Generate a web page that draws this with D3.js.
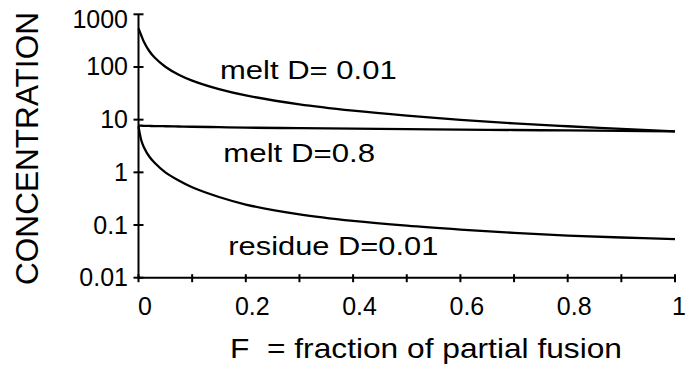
<!DOCTYPE html>
<html><head><meta charset="utf-8">
<script src="https://cdn.jsdelivr.net/npm/d3@7"></script>
<style>
body{margin:0;background:#fff}
svg{display:block}
text{font-family:"Liberation Sans",Arial,Helvetica,sans-serif;fill:#000}
</style>
</head><body><svg id="c" width="686" height="369"></svg>
<script>
// ---- data ----
const fraction    = [0, 0.005, 0.01, 0.02, 0.03, 0.05, 0.075, 0.1, 0.15, 0.2, 0.3, 0.4, 0.5, 0.6, 0.7, 0.8, 0.9, 1.0];
const meltD001    = [540, 401, 301, 201, 151, 101, 71, 55, 37.9, 28.8, 19.5, 14.8, 11.9, 9.9, 8.5, 7.5, 6.7, 6.0];
const meltD08     = [7.7, 7.68, 7.65, 7.6, 7.56, 7.5, 7.42, 7.34, 7.2, 7.05, 6.9, 6.75, 6.6, 6.48, 6.36, 6.24, 6.12, 6.0];
const residueD001 = [7.5, 4.1, 3.0, 2.0, 1.52, 1.0, 0.7, 0.52, 0.34, 0.245, 0.16, 0.12, 0.097, 0.082, 0.071, 0.063, 0.058, 0.054];
const seriesNames = ["melt D= 0.01", "melt D=0.8", "residue D=0.01"];
const yTickValues = [1000, 100, 10, 1, 0.1, 0.01];
const yTickLabels = ["1000", "100", "10", "1", "0.1", "0.01"];
const xTickValues = [0, 0.2, 0.4, 0.6, 0.8, 1];
const xTickLabels = ["0", "0.2", "0.4", "0.6", "0.8", "1"];
const xMinorTicks = [0, 0.1, 0.2, 0.3, 0.4, 0.5, 0.6, 0.7, 0.8, 0.9, 1];
const xTitle = "F  = fraction of partial fusion";
const yTitle = "CONCENTRATION";

const svg = d3.select("#c");
const x = d3.scaleLinear().domain([0, 1]).range([138.5, 675]);
const y = d3.scaleLog().domain([0.01, 1000]).range([277.7, 14.3]);

const axes = svg.append("g").attr("stroke", "#000").attr("stroke-width", 2);
// axis lines
axes.append("line").attr("x1", x(0)).attr("x2", x(0)).attr("y1", y(1000)).attr("y2", y(0.01) + 1);
axes.append("line").attr("x1", x(0) - 1).attr("x2", x(1)).attr("y1", y(0.01)).attr("y2", y(0.01));
// y ticks (crossing the axis)
axes.selectAll(".yt").data(yTickValues).join("line").attr("class", "yt")
  .attr("x1", x(0) - 5).attr("x2", x(0) + 5).attr("y1", d => y(d)).attr("y2", d => y(d));
// x ticks (crossing the axis)
axes.selectAll(".xt").data(xMinorTicks).join("line").attr("class", "xt")
  .attr("x1", d => x(d)).attr("x2", d => x(d)).attr("y1", y(0.01) - 3.5).attr("y2", y(0.01) + 4.5);

// y tick labels
svg.append("g").selectAll("text").data(yTickValues).join("text")
  .attr("x", x(0) - 10.5).attr("text-anchor", "end").attr("font-size", 25)
  .attr("y", (d, i) => i === 0 ? y(d) + 13.5 : y(d) + 8.5)
  .text((d, i) => yTickLabels[i]);

// x tick labels
svg.append("g").selectAll("text").data(xTickValues).join("text")
  .attr("x", d => d === 1 ? 686 : x(d) + 6.5).attr("y", 315)
  .attr("text-anchor", d => d === 1 ? "end" : "middle")
  .attr("font-size", 25).text((d, i) => xTickLabels[i]);

// curves
const series = [meltD001, meltD08, residueD001];
const line = d3.line().x((d, i) => x(fraction[i])).y(d => y(d)).curve(d3.curveCatmullRom.alpha(0.5));
svg.append("g").selectAll("path").data(series).join("path")
  .attr("d", line).attr("fill", "none").attr("stroke", "#000").attr("stroke-width", 2.3);

// series labels
const labelPos = [[220, 79, 176.7], [223.3, 161.5, 151.7], [228.3, 255, 210]];
svg.append("g").selectAll("text").data(seriesNames).join("text")
  .attr("x", (d, i) => labelPos[i][0]).attr("y", (d, i) => labelPos[i][1])
  .attr("font-size", 26)
  .attr("textLength", (d, i) => labelPos[i][2]).attr("lengthAdjust", "spacingAndGlyphs")
  .text(d => d);

// titles
svg.append("text").attr("x", 230).attr("y", 358).attr("font-size", 28)
  .attr("textLength", 392).attr("lengthAdjust", "spacingAndGlyphs")
  .attr("xml:space", "preserve").style("white-space", "pre").text(xTitle);
svg.append("text").attr("transform", "translate(38.3,285) rotate(-90)")
  .attr("font-size", 31).attr("textLength", 273).attr("lengthAdjust", "spacingAndGlyphs")
  .text(yTitle);
</script>
</body></html>
